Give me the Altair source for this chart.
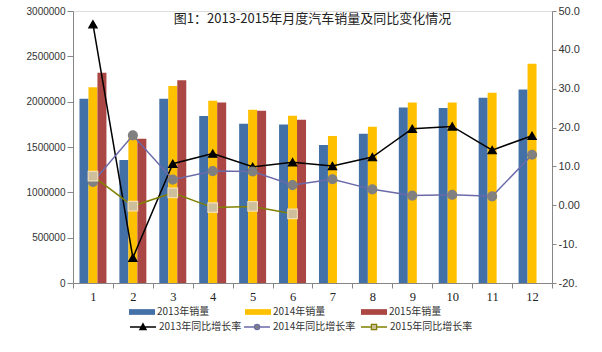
import altair as alt
import pandas as pd

months = list(range(1, 13))
sales_2013 = [2032000, 1357000, 2032000, 1842000, 1757000, 1749000, 1522000, 1647000, 1936000, 1929000, 2043000, 2134000]
sales_2014 = [2160000, 1600000, 2172000, 2010000, 1911000, 1845000, 1621000, 1724000, 1991000, 1991000, 2098000, 2417000]
sales_2015 = [2318000, 1590000, 2237000, 1991000, 1900000, 1800000]
growth_2013 = [46.6, -13.5, 10.7, 13.3, 9.9, 11.1, 10.1, 12.4, 19.7, 20.3, 14.2, 17.9]
growth_2014 = [6.0, 18.0, 6.6, 8.8, 8.7, 5.2, 6.7, 4.1, 2.5, 2.7, 2.3, 13.0]
growth_2015 = [7.5, -0.2, 3.2, -0.6, -0.3, -2.2]

bar_names = ["2013年销量", "2014年销量", "2015年销量"]
line_names = ["2013年同比增长率", "2014年同比增长率", "2015年同比增长率"]
line_colors = ["#000000", "#6A6AAA", "#808000"]
marker_fills = ["#000000", "#808080", "#CDBE9C"]
marker_strokes = ["#000000", "#808080", "#F2DDB5"]

rows = []
for name, vals in zip(bar_names, [sales_2013, sales_2014, sales_2015]):
    for m, v in zip(months, vals):
        rows.append({"month": m, "series": name, "sales": v})
bars_df = pd.DataFrame(rows)

rows = []
for name, vals in zip(line_names, [growth_2013, growth_2014, growth_2015]):
    for m, v in zip(months, vals):
        rows.append({"month": m, "rseries": name, "rate": v})
lines_df = pd.DataFrame(rows)

FONT_CJK = "Noto Sans CJK SC"
AXIS_GRAY = "#868686"

x_enc = alt.X("month:O", scale=alt.Scale(paddingInner=0, paddingOuter=0),
              axis=alt.Axis(title=None, labelAngle=0, labelFont="Liberation Serif",
                            labelFontSize=12.5, labelColor="#222222", labelPadding=2,
                            tickBand="extent", tickSize=5, tickColor=AXIS_GRAY,
                            domainColor=AXIS_GRAY, grid=False))

bar_path = "M-1,-0.22L1,-0.22L1,0.22L-1,0.22Z"
bars = alt.Chart(bars_df).mark_bar().encode(
    x=x_enc,
    xOffset=alt.XOffset("series:N", scale=alt.Scale(domain=bar_names, paddingInner=0, paddingOuter=0.72)),
    y=alt.Y("sales:Q", scale=alt.Scale(domain=[0, 3000000], nice=False),
            axis=alt.Axis(title=None, values=[0, 500000, 1000000, 1500000, 2000000, 2500000, 3000000],
                          format="d", labelFont="Liberation Sans", labelFontSize=10,
                          labelColor="#333333", tickSize=6, tickColor=AXIS_GRAY,
                          domainColor=AXIS_GRAY, grid=False, labelPadding=2)),
    color=alt.Color("series:N",
                    scale=alt.Scale(domain=bar_names, range=["#4470A8", "#FFC000", "#AA4643"]),
                    legend=alt.Legend(title=None, orient="none", legendX=56, legendY=288,
                                      direction="horizontal", columns=3, columnPadding=35,
                                      symbolType=bar_path, symbolSize=676, symbolStrokeWidth=0,
                                      labelFont=FONT_CJK, labelFontSize=10, labelColor="#333333",
                                      labelOffset=2)),
)

y_right = alt.Y("rate:Q", scale=alt.Scale(domain=[-20, 50], nice=False),
                axis=alt.Axis(title=None, orient="right", values=[-20, -10, 0, 10, 20, 30, 40, 50],
                              labelExpr="datum.value == 50 ? '50.0' : datum.value == 40 ? '40.0' : "
                                        "datum.value == 30 ? '30.0' : datum.value == 20 ? '20.0' : "
                                        "datum.value == 10 ? '10.0' : datum.value == 0 ? '0.00' : "
                                        "datum.value == -10 ? '-10.' : '-20.'",
                              labelFont="Liberation Sans", labelFontSize=11, labelColor="#333333",
                              tickSize=4, tickColor=AXIS_GRAY, domainColor=AXIS_GRAY, grid=False,
                              labelPadding=2))

legend_paths = [
    "M-1,0L1,0M0,-0.25L0.24,0.2L-0.24,0.2Z",
    "M-1,0L-0.2,0M0.2,0L1,0M-0.2,0A0.2,0.2,0,1,1,0.2,0A0.2,0.2,0,1,1,-0.2,0Z",
    "M-1,0L-0.2,0M0.2,0L1,0M-0.2,-0.2L0.2,-0.2L0.2,0.2L-0.2,0.2Z",
]
legend_x = [56, 170, 287]

line_layers = []
for i, name in enumerate(line_names):
    line_layers.append(
        alt.Chart(lines_df).transform_filter(alt.datum.rseries == name).mark_line(strokeWidth=1.5).encode(
            x=x_enc,
            y=y_right,
            color=alt.Color("rseries:N",
                            scale=alt.Scale(domain=[name], range=[line_colors[i]]),
                            legend=alt.Legend(title=None, orient="none", legendX=legend_x[i], legendY=302,
                                              symbolType=legend_paths[i], symbolSize=676,
                                              symbolFillColor=marker_fills[i],
                                              symbolStrokeColor=line_colors[i],
                                              symbolStrokeWidth=1.3,
                                              labelFont=FONT_CJK, labelFontSize=10,
                                              labelColor="#333333", labelOffset=2)),
        )
    )

points = alt.Chart(lines_df).mark_point(filled=True, opacity=1).encode(
    x=x_enc,
    y=y_right,
    shape=alt.Shape("rseries:N", scale=alt.Scale(domain=line_names, range=["triangle-up", "circle", "square"]),
                    legend=None),
    fill=alt.Fill("rseries:N", scale=alt.Scale(domain=line_names, range=marker_fills), legend=None),
    stroke=alt.Stroke("rseries:N", scale=alt.Scale(domain=line_names, range=marker_strokes), legend=None),
    size=alt.Size("rseries:N", scale=alt.Scale(domain=line_names, range=[70, 90, 55]), legend=None),
    strokeWidth=alt.value(1.2),
)

right = alt.layer(*line_layers, points).resolve_scale(color="independent")

chart = alt.layer(bars, right).resolve_scale(
    y="independent", color="independent"
).properties(
    width=479, height=272,
    padding={"left": 73, "top": 11, "right": 50, "bottom": 69},
    autosize=alt.AutoSizeParams(type="none"),
    title=alt.Title("图1：2013-2015年月度汽车销量及同比变化情况", font=FONT_CJK, fontSize=13,
                    fontWeight="normal", color="#222222", anchor="middle", offset=-21),
).configure_view(stroke=None).configure(background="white")

chart.save("out.html", embed_options={"renderer": "svg", "actions": False})
